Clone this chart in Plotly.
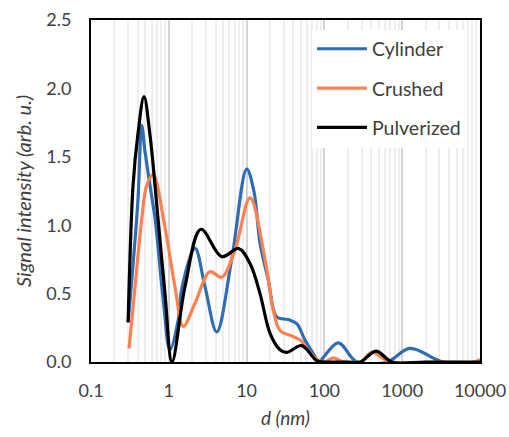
import plotly.graph_objects as go

# Cylinder
cyl_d = [0.30, 0.40, 0.448, 0.494, 0.573, 0.665, 0.85, 1.036, 1.325, 1.46, 2.17, 2.92, 4.13,
         6.43, 10.03, 12.4, 14.87, 19.0, 24.4, 34.4, 44.1, 56.3, 75.7, 83.5, 150, 262, 638,
         1259, 3340, 10000]
cyl_v = [0.29, 1.17, 1.73, 1.54, 1.29, 1.05, 0.45, 0.09, 0.31, 0.53, 0.83, 0.55, 0.22,
         0.75, 1.41, 1.25, 0.87, 0.60, 0.33, 0.31, 0.28, 0.16, 0.04, 0.0, 0.14, 0.0, 0.0,
         0.10, 0.0, 0.0]

# Crushed
cru_d = [0.308, 0.368, 0.448, 0.52, 0.63, 0.87, 1.20, 1.536, 2.17, 3.38, 4.79, 7.09, 11.06,
         17.24, 22.0, 26.9, 38.0, 48.6, 65.3, 79.6, 100, 129, 180, 290, 409, 697, 3000, 8500,
         10000]
cru_v = [0.10, 0.55, 1.04, 1.29, 1.37, 1.02, 0.55, 0.26, 0.43, 0.66, 0.62, 0.82, 1.20,
         0.75, 0.38, 0.23, 0.19, 0.16, 0.07, 0.02, 0.0, 0.03, 0.0, 0.0, 0.07, 0.0, 0.0, 0.0,
         0.02]

# Pulverized
pul_d = [0.30, 0.347, 0.40, 0.48, 0.573, 0.665, 0.726, 0.894, 1.10, 1.615, 2.59, 4.79, 7.9,
         11.06, 14.87, 20.0, 26.9, 32.8, 51.1, 79.6, 100, 200, 290, 460, 740, 2000, 10000]
pul_v = [0.29, 1.29, 1.66, 1.94, 1.66, 1.29, 1.05, 0.50, 0.0, 0.55, 0.97, 0.77, 0.83,
         0.72, 0.50, 0.21, 0.09, 0.07, 0.12, 0.01, 0.0, 0.0, 0.0, 0.08, 0.0, 0.0, 0.0]

x_tickvals = [0.1, 1, 10, 100, 1000, 10000]
x_ticktext = ["0.1", "1", "10", "100", "1000", "10000"]
y_tickvals = [0.0, 0.5, 1.0, 1.5, 2.0, 2.5]

FONT = "Lato"
TXT = "#404040"

fig = go.Figure()
series = [("Cylinder", cyl_d, cyl_v, "#2E6DB4"),
          ("Crushed", cru_d, cru_v, "#FF8150"),
          ("Pulverized", pul_d, pul_v, "#000000")]
for name, xd, yv, col in series:
    fig.add_trace(go.Scatter(x=xd, y=yv, mode="lines", name=name, legendgroup=name,
                             line=dict(color=col, width=3.2, shape="spline", smoothing=1.0)))

fig.update_layout(
    width=509, height=437,
    margin=dict(l=91, r=29, t=20, b=75, autoexpand=False),
    paper_bgcolor="white", plot_bgcolor="white",
    font=dict(family=FONT, size=17, color=TXT),
    showlegend=True,
    legend=dict(x=0.568, y=0.972, xanchor="left", yanchor="top", bgcolor="white",
                font=dict(family=FONT, size=19.5, color=TXT), tracegroupgap=11,
                itemwidth=50),
)
fig.update_xaxes(
    type="log", range=[-1, 4], tickvals=x_tickvals, ticktext=x_ticktext,
    showgrid=True, gridcolor="#D4D4D4", gridwidth=2,
    minor=dict(showgrid=True, gridcolor="#EEEEEE", gridwidth=2, dtick="D1", ticks=""),
    showline=True, linecolor="black", linewidth=2, mirror=True,
    ticks="", ticklabelstandoff=11, zeroline=False,
    tickfont=dict(size=18, color=TXT),
    title=dict(text="<i>d (nm)</i>", font=dict(size=19, color=TXT), standoff=12),
)
fig.update_yaxes(
    range=[0, 2.5], tickvals=y_tickvals, tickformat=".1f",
    showgrid=False, zeroline=False,
    showline=True, linecolor="black", linewidth=2, mirror=True,
    ticks="", ticklabelstandoff=14,
    tickfont=dict(size=18, color=TXT),
    title=dict(text="<i>Signal intensity (arb. u.)</i>", font=dict(size=20, color=TXT), standoff=9),
)

fig.write_html("out.html")
